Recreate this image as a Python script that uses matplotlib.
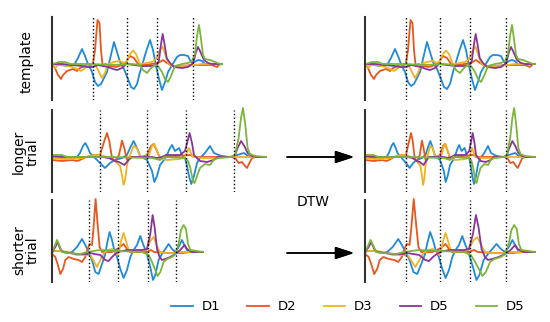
import numpy as np
import matplotlib
matplotlib.use('Agg')
import matplotlib.pyplot as plt
from matplotlib.lines import Line2D

# segment boundaries (dotted lines) in time units
tpl_bounds = [0, 41, 75, 105, 141, 170]
lng_bounds = [0, 48, 95, 134, 182, 214]
sht_bounds = [0, 37, 66, 96, 124, 151]

# template trial: (time, amplitude)
tpl_d1 = [(0, 0), (8, -1), (16, -2), (22, -1), (26, 6), (30, 15), (33, 8), (36, 0), (40, -8), (43, -18),
          (46, -22), (49, -20), (52, -14), (55, -8), (58, 5), (62, 22), (65, 12), (68, 2), (72, -5),
          (76, -15), (79, -23), (82, -25), (85, -20), (88, -8), (91, 2), (94, 12), (98, 24), (101, 14),
          (104, -2), (107, -15), (110, -26), (113, -18), (116, -8), (119, -3), (122, 2), (125, 7),
          (128, 9), (132, 9), (136, 8), (139, 2), (141, 1), (144, 3), (147, 4), (150, 3), (153, 0), (170, 0)]
tpl_d2 = [(0, 0), (3, -4), (6, -11), (9, -15), (11, -11), (15, -7), (18, -6), (21, -5), (25, -7), (28, -4),
          (33, -2), (38, -2), (41, 1), (43, 14), (45.5, 44), (47.5, 41), (49, 14), (50.7, -2), (53, 0),
          (58, -2), (64, -3), (70, -1), (74, 2), (78, 8), (82, 6), (86, 0), (90, -1), (100, 0), (106, 1),
          (111, 4), (115, 1), (120, -2), (130, -2), (140, -1), (160, -1), (165, -3), (168, 0), (170, 0)]
tpl_d3 = [(0, 0), (3, -4), (6, -1), (12, -1), (20, -3), (25, -5), (29, -7), (32, -5), (36, -1), (40, 0),
          (44, -2), (47, -8), (50, -14), (53, -9), (56, 0), (62, 2), (68, 3), (72, 1), (75, 3), (78, 10),
          (81, 13.5), (84, 10), (88, 0), (95, 1), (100, 2), (104, 5), (108, 14), (110.5, 17.5), (113, 10),
          (116, 1), (120, -2), (135, -2), (142, -1), (150, 0), (170, 0)]
tpl_d4 = [(0, 0), (10, 0), (20, -1), (30, -2), (35, -3), (41, -3), (46, -1), (51, -2), (56, -3), (61, -5),
          (65, -6), (70, -4), (74, 0), (90, -2), (100, -2), (105, -1), (107, 4), (109, 20), (110.7, 30),
          (112.5, 20), (114.7, 6), (118, 1), (122, -3), (130, -4), (136, -3), (140, 0), (142, 4), (144, 12),
          (146, 17), (148, 13), (152, 4), (156, 1), (160, 0), (170, 0)]
tpl_d5 = [(0, 0), (4, 1), (7, 2), (13, 2), (18, 0), (40, 0), (60, -1), (80, 0), (88, -1), (91, -6), (95, -9),
          (99, -4), (103, -1), (106, -2), (110, -8), (113, -15), (116, -18), (119, -12), (123, -2), (130, 0),
          (136, 1), (140, 3), (143, 10), (145, 28), (147, 39), (149, 25), (151, 9), (153, 5), (158, 4),
          (163, 2), (168, 0), (170, 0)]

# longer trial
lng_d1 = [(0, 0), (10, -1), (20, -1), (25, 0), (28, 4), (31, 11), (33.3, 14), (36, 9), (38, 4), (43, -1),
          (48, -6), (53, -11), (58, -6), (63, -3), (70, -1), (75, 2), (78, 9), (81.6, 16), (85, 9), (88, 1),
          (95, -3), (100, -14), (102.3, -25), (105, -19), (108, -8), (112, -3), (115, 2), (117.5, 8),
          (120, 12), (123, 6), (127, 9), (130, 2), (133, -1), (135, -9), (137, -19), (139.3, -27), (142, -19),
          (145, -6), (148, -1), (153, 4), (158, 11), (162, 4), (166.7, 2), (170, 1), (178, 0), (185, 2),
          (192, 4), (196, 1), (200, 0), (214, 0)]
lng_d2 = [(0, -3), (10, -4), (20, -3), (25, -4), (28, -3), (34, 0), (42, 2), (48, 2), (52.3, 16), (55, 24),
          (57.3, 16), (60, -1), (63, -4), (67, 2), (70, 16.3), (72.3, 9), (75, -3), (79, 0), (90, 0), (95, 2),
          (99, 11), (101.6, 13), (105, 6), (108, -1), (112, 0), (138, 2), (143, 0), (180, 0), (184, -2),
          (186.7, -6), (190, -5), (193, -9), (195, -11), (197, -7), (200, -1), (204, 0), (214, 0)]
lng_d3 = [(0, -1), (10, -2), (20, -2), (30, -1), (42, 2), (48, 2), (55, 0), (61.6, -3), (68, -9), (70, -18),
          (71.6, -28), (73.3, -22), (75, -8), (78, 2), (81.6, 11), (85, 9), (88, 1), (92, 0), (97, 2),
          (100, 11), (102.3, 13), (105, 6), (108, -1), (115, -3), (128, -2), (133, 0), (135.5, 6), (137, 9),
          (139, 4), (141, 0), (150, -1), (165, -1), (175, 0), (214, 0)]
lng_d4 = [(0, 1), (20, 0), (50, 0), (57, -1), (63, -4), (67, -5), (72.3, -8), (76.6, -3), (80, 0), (100, 0),
          (105, -1), (110, 0), (114, 2), (128, 2), (133, 6), (135.6, 16), (137.6, 24), (140, 14), (142, 2),
          (145, -1), (148, -4), (155, -5), (161.6, -3), (166, 0), (180, 0), (183, 2), (185.6, 9), (189, 16),
          (192.3, 11), (195.6, 4), (200, 1), (204, 0), (214, 0)]
lng_d5 = [(0, 2), (10, 2), (15, 0), (60, 0), (95, -1), (100, -1), (108, -3), (112, 0), (133, -1), (136, -4),
          (138.3, -11), (141, -24), (142.6, -26), (145, -19), (148, -11), (153, -7), (158, -8), (161.6, -3),
          (166, -1), (180, 0), (183, 2), (186.6, 19), (189, 39), (191, 49), (193.3, 32), (195.6, 9), (198, 3),
          (203, 1), (214, 0)]

# shorter trial
sht_d1 = [(0, 0), (3, 1), (8, 1), (16, -1), (20, 0), (25, 5), (30, 13), (33.3, 7), (36.6, 0), (40, -8),
          (43.3, -20), (46.6, -22), (50, -12), (53.3, -2), (55, 8), (57.6, 20), (60, 12), (62.3, 2), (65, -5),
          (68.3, -17), (71.6, -26), (75, -18), (78.3, -5), (81.6, 2), (85, 7), (88.3, 16), (91, 8), (94.3, 0),
          (98.3, -15), (101, -28), (103.3, -23), (106.6, -8), (110, -2), (113.3, 3), (116.6, 8), (120, 3),
          (123.3, 0), (126.6, 5), (130, 12), (132.3, 7), (135, 2), (140, 0), (151, 0)]
sht_d2 = [(0, -2), (3.3, -5), (5.6, -12), (8.3, -22), (11, -17), (13.3, -8), (16.6, -5), (21.6, -7),
          (26.6, -8), (30, -10), (33.3, -5), (35.6, 3), (37.6, 8), (40, 7), (41.6, 25), (43.6, 53), (45.6, 28),
          (47.6, 5), (50, 0), (60, 0), (65, 3), (68, 5), (71.6, 8), (75, 3), (78, 0), (95, 0), (99, 2),
          (102, 0), (115, -1), (130, -1), (140, 0), (151, 0)]
sht_d3 = [(0, 1), (10, 1), (16, 0), (25, -3), (35, -3), (39, -4), (43.3, -12), (45, -15), (48.3, -8),
          (52, -1), (56, 2), (60, 3), (63, 1), (65, -3), (67, 0), (69.3, 12), (71.6, 19), (74.3, 10),
          (76.6, 2), (80, 0), (94, 2), (99, 12), (101.6, 15), (104.3, 8), (107.6, 0), (112, -1), (122, -1),
          (130, 0), (151, 0)]
sht_d4 = [(0, 0), (3.3, 5), (5.6, 10), (8.3, 3), (11, 0), (25, -2), (35, -2), (38, -1), (43, -2), (48.3, -3),
          (53.3, -8), (56.6, -9), (60, -5), (63.3, -2), (66, 0), (75, 2), (90, 2), (95, 3), (98.3, 18),
          (100.6, 37), (102.6, 25), (105, 3), (107.6, -5), (110, -8), (113.3, -7), (118.3, -5), (123.3, -2),
          (128.3, 2), (132.6, 7), (135, 3), (140, 0), (151, 0)]
sht_d5 = [(0, 0), (2.3, 5), (5, 12), (7.3, 7), (10, 0), (15, -1), (28.3, -2), (35, 0), (48, 2), (65, 1),
          (90, 0), (96.6, -3), (100, -10), (103.3, -18), (105.6, -24), (108.3, -20), (111.6, -10), (115, -7),
          (120, -5), (123.3, -2), (126.6, 8), (129, 22), (131.6, 27), (134, 23), (136, 8), (138.3, 2),
          (145, 1), (151, 0)]

labels = ['D1', 'D2', 'D3', 'D5', 'D5']
colors = ['#1f8ad8', '#e8561e', '#f0b323', '#8a3598', '#7cb53a']


def draw_panel(ax, series, bounds, xlim, ylim, warp=None):
    for s, c in zip(series, colors):
        t, v = np.array(s, dtype=float).T
        if warp is not None:
            t = np.interp(t, warp[0], warp[1])
        ax.plot(t, v, color=c, lw=1.3, clip_on=False, solid_joinstyle='round')
    for b in bounds[1:-1]:
        ax.axvline(b, color='black', ls=':', lw=1.0)
    ax.set_xlim(*xlim)
    ax.set_ylim(*ylim)
    for side in ['top', 'right', 'bottom']:
        ax.spines[side].set_visible(False)
    ax.spines['left'].set_color('#333333')
    ax.spines['left'].set_linewidth(1.5)
    ax.set_xticks([])
    ax.set_yticks([])
    ax.patch.set_alpha(0)


W, H = 550, 322
fig = plt.figure(figsize=(5.5, 3.22), dpi=100)

rows = [(17, 100, (-36, 47)), (110, 192, (-35, 47)), (200, 282, (-30, 52))]
trials = [
    ([tpl_d1, tpl_d2, tpl_d3, tpl_d4, tpl_d5], tpl_bounds),
    ([lng_d1, lng_d2, lng_d3, lng_d4, lng_d5], lng_bounds),
    ([sht_d1, sht_d2, sht_d3, sht_d4, sht_d5], sht_bounds),
]

for (top, bot, ylim), (series, bounds) in zip(rows, trials):
    axl = fig.add_axes([52 / W, 1 - bot / H, 220 / W, (bot - top) / H])
    draw_panel(axl, series, bounds, (0, 220), ylim)
    axr = fig.add_axes([365 / W, 1 - bot / H, 185 / W, (bot - top) / H])
    draw_panel(axr, series, tpl_bounds, (0, 185), ylim, warp=(bounds, tpl_bounds))

fig.text(27 / W, 1 - 62 / H, 'template', rotation=90, ha='center', va='center', fontsize=10)
fig.text(26 / W, 1 - 152 / H, 'longer\ntrial', rotation=90, ha='center', va='center',
         fontsize=10, multialignment='center', linespacing=1.0)
fig.text(26 / W, 1 - 250 / H, 'shorter\ntrial', rotation=90, ha='center', va='center',
         fontsize=10, multialignment='center', linespacing=1.0)

for y in [157, 253]:
    fig.add_artist(plt.annotate('', xy=(354 / W, 1 - y / H), xytext=(287 / W, 1 - y / H),
                                xycoords='figure fraction', textcoords='figure fraction',
                                arrowprops=dict(arrowstyle='-|>,head_length=1.15,head_width=0.38',
                                                mutation_scale=10, lw=1.1, color='black',
                                                shrinkA=0, shrinkB=0)))
fig.text(313 / W, 1 - 202 / H, 'DTW', ha='center', va='center', fontsize=10)

handles = [Line2D([0], [0], color=c, lw=1.3) for c in colors]
fig.legend(handles, labels, ncol=5, loc='center', bbox_to_anchor=(348 / W, 1 - 307 / H),
           frameon=False, fontsize=9.5, handlelength=1.6, handletextpad=0.7, columnspacing=2.05,
           borderpad=0, borderaxespad=0)

fig.savefig('out.png', dpi=100)
